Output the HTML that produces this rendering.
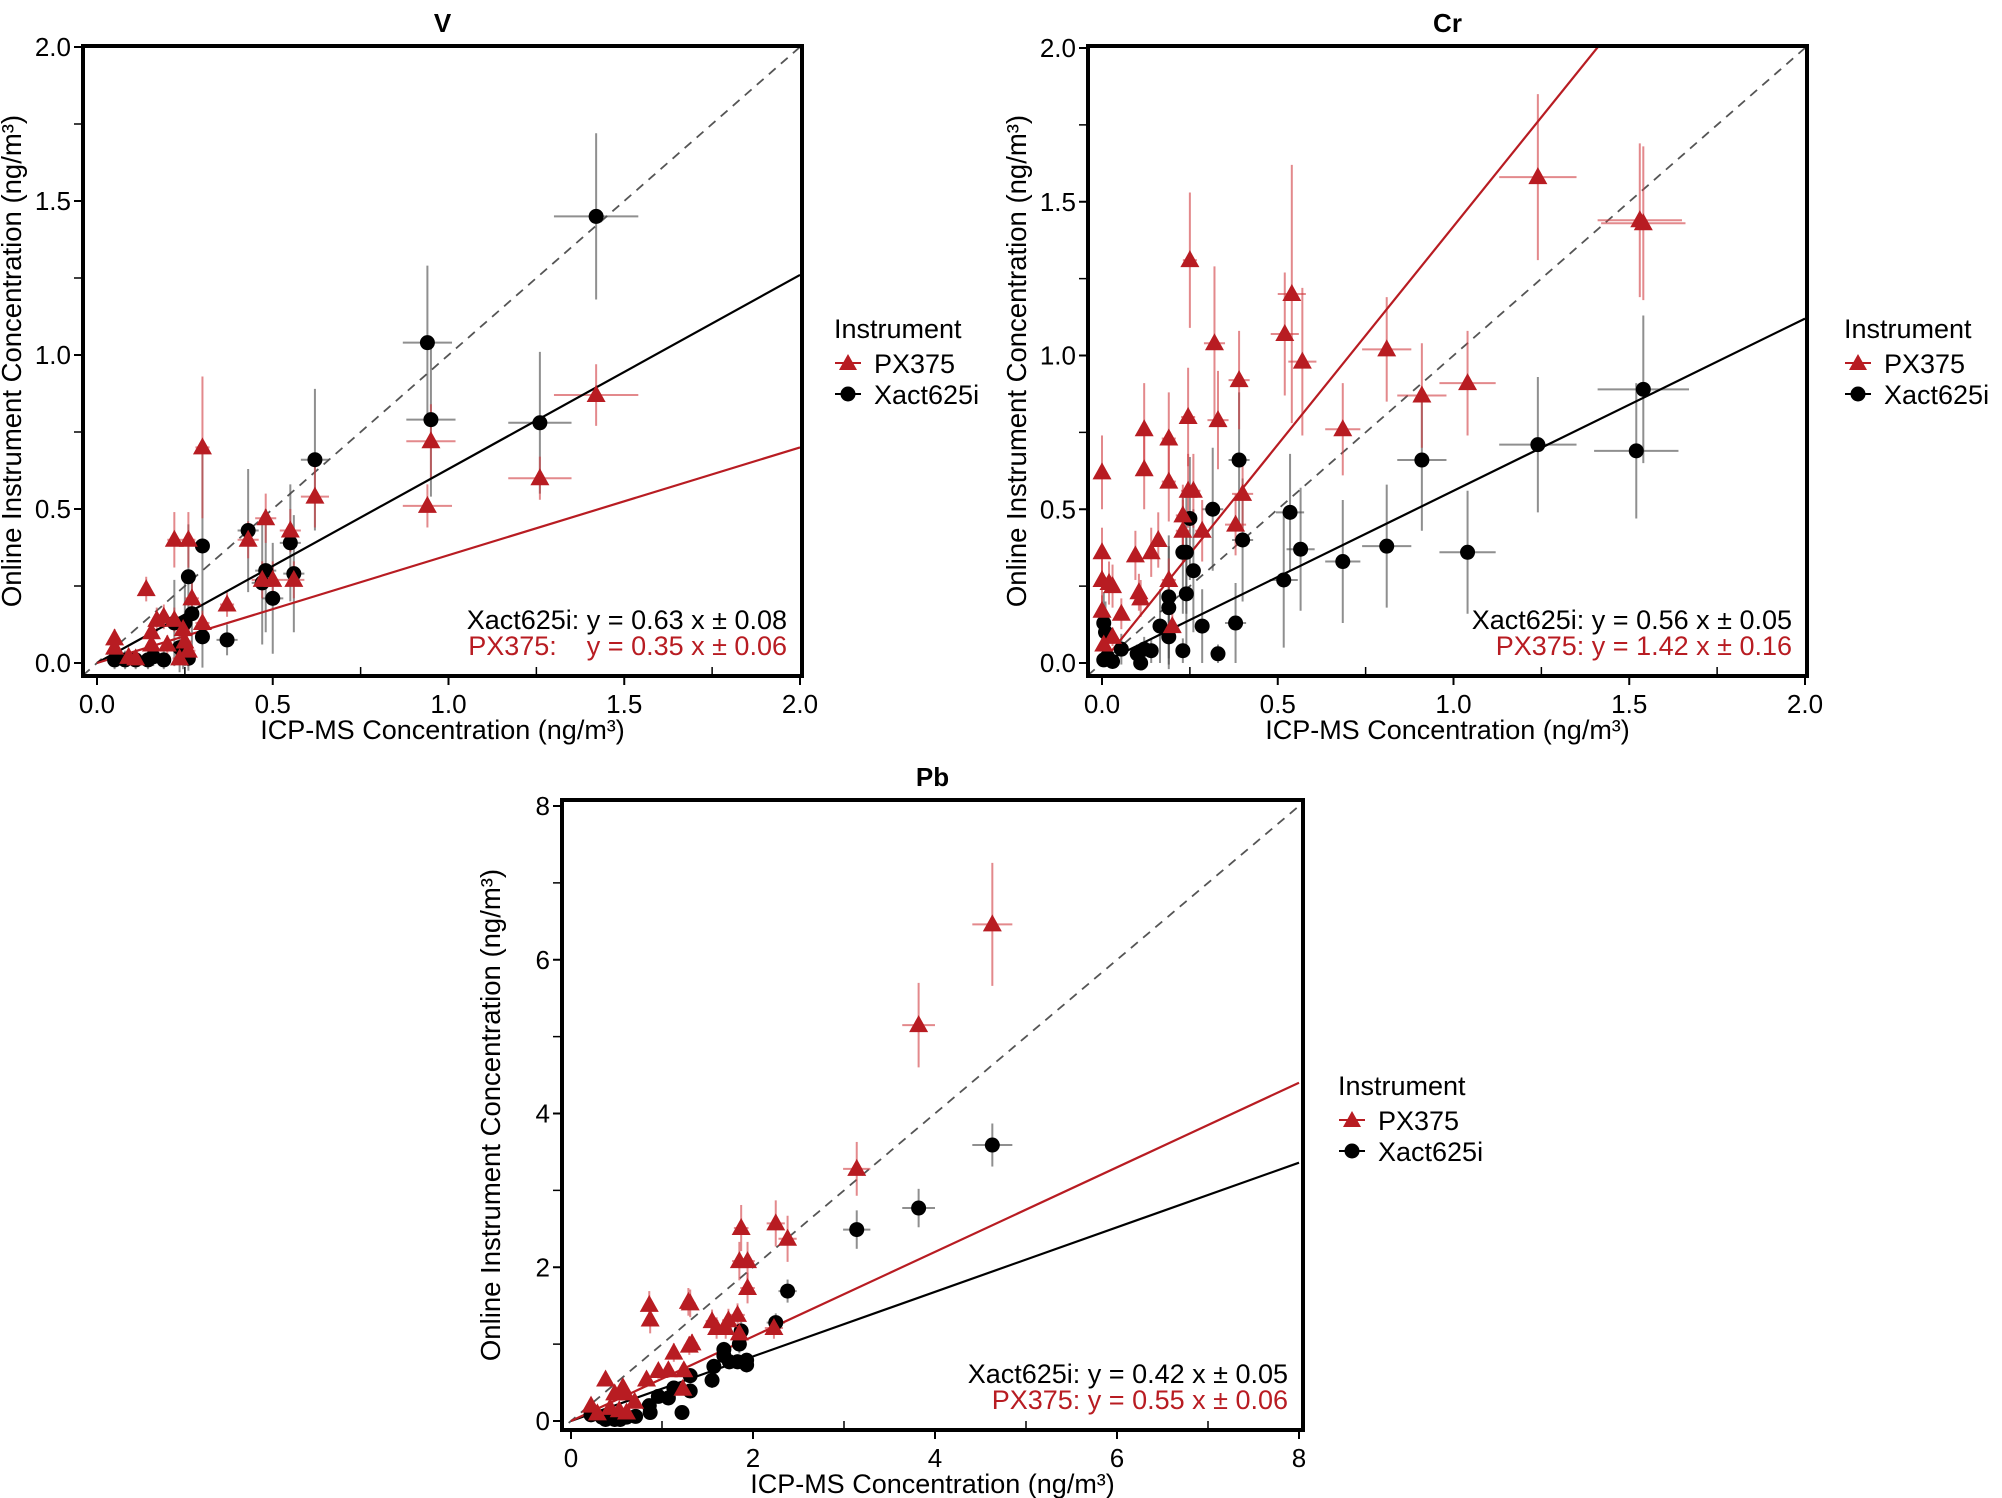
<!DOCTYPE html>
<html><head><meta charset="utf-8"><style>
html,body{margin:0;padding:0;background:#fff;}
svg{display:block;font-family:"Liberation Sans",sans-serif;}
</style></head><body>
<svg id="chart" width="2002" height="1498" viewBox="0 0 2002 1498"></svg>
<script>
// ---- data: [x, y, xerr, yerr] ----
const slopesV = [0.63, 0.35];
const slopesCr = [0.56, 1.42];
const slopesPb = [0.42, 0.55];
const vXact = [[1.42,1.45,0.12,0.27],[0.94,1.04,0.07,0.25],[0.95,0.79,0.07,0.25],[1.26,0.78,0.09,0.23],[0.62,0.66,0.04,0.23],[0.43,0.43,0.03,0.2],[0.55,0.39,0.03,0.19],[0.30,0.38,0.02,0.3],[0.48,0.30,0.03,0.2],[0.56,0.29,0.03,0.19],[0.26,0.28,0.02,0.17],[0.47,0.26,0.03,0.2],[0.50,0.21,0.03,0.18],[0.27,0.16,0.02,0.12],[0.30,0.085,0.02,0.1],[0.37,0.075,0.03,0.05],[0.22,0.13,0.02,0.14],[0.25,0.13,0.02,0.14],[0.05,0.01,0.01,0.03],[0.08,0.01,0.01,0.03],[0.11,0.01,0.01,0.03],[0.145,0.01,0.01,0.03],[0.16,0.02,0.01,0.03],[0.19,0.01,0.01,0.03],[0.245,0.03,0.02,0.05],[0.26,0.015,0.02,0.04],[0.235,0.05,0.02,0.08]];
const vPx = [[1.42,0.87,0.12,0.1],[0.95,0.72,0.07,0.12],[0.94,0.51,0.07,0.07],[1.26,0.60,0.09,0.07],[0.62,0.54,0.04,0.1],[0.30,0.70,0.02,0.23],[0.48,0.47,0.03,0.08],[0.55,0.43,0.03,0.07],[0.43,0.40,0.03,0.06],[0.22,0.40,0.02,0.09],[0.26,0.40,0.02,0.09],[0.47,0.27,0.03,0.06],[0.50,0.27,0.03,0.06],[0.56,0.27,0.03,0.06],[0.14,0.24,0.01,0.04],[0.27,0.21,0.02,0.05],[0.37,0.19,0.02,0.04],[0.17,0.14,0.01,0.04],[0.19,0.15,0.01,0.04],[0.22,0.14,0.01,0.04],[0.30,0.13,0.02,0.04],[0.155,0.10,0.01,0.03],[0.05,0.08,0.01,0.03],[0.245,0.11,0.02,0.04],[0.155,0.06,0.01,0.03],[0.20,0.06,0.01,0.03],[0.25,0.07,0.02,0.03],[0.05,0.05,0.01,0.02],[0.09,0.02,0.01,0.02],[0.11,0.015,0.01,0.02],[0.235,0.015,0.02,0.02],[0.26,0.04,0.02,0.02]];
const crXact = [[1.54,0.89,0.13,0.24],[1.24,0.71,0.11,0.22],[1.52,0.69,0.12,0.22],[0.91,0.66,0.07,0.23],[0.39,0.66,0.03,0.22],[0.315,0.50,0.03,0.2],[0.535,0.49,0.04,0.19],[0.25,0.47,0.02,0.2],[0.40,0.40,0.03,0.2],[0.81,0.38,0.07,0.2],[0.565,0.37,0.04,0.2],[1.04,0.36,0.08,0.2],[0.23,0.36,0.02,0.2],[0.24,0.36,0.02,0.2],[0.685,0.33,0.05,0.2],[0.26,0.30,0.02,0.2],[0.517,0.27,0.04,0.22],[0.24,0.225,0.02,0.2],[0.19,0.215,0.02,0.2],[0.19,0.18,0.02,0.2],[0.38,0.13,0.03,0.13],[0.285,0.12,0.02,0.12],[0.165,0.12,0.02,0.12],[0.19,0.085,0.02,0.09],[0.005,0.13,0.005,0.1],[0.01,0.10,0.005,0.1],[0.23,0.04,0.02,0.04],[0.33,0.03,0.02,0.03],[0.055,0.045,0.01,0.05],[0.14,0.04,0.01,0.04],[0.10,0.03,0.01,0.03],[0.12,0.045,0.01,0.04],[0.11,0.0,0.01,0.02],[0.03,0.005,0.01,0.02],[0.005,0.01,0.005,0.02],[0.015,0.02,0.005,0.02]];
const crPx = [[1.24,1.58,0.11,0.27],[1.53,1.44,0.12,0.25],[1.54,1.43,0.12,0.25],[0.25,1.31,0.02,0.22],[0.54,1.20,0.04,0.42],[0.52,1.07,0.04,0.2],[0.32,1.04,0.03,0.25],[0.57,0.98,0.04,0.24],[0.81,1.02,0.07,0.17],[0.39,0.92,0.03,0.16],[1.04,0.91,0.08,0.17],[0.91,0.87,0.07,0.17],[0.12,0.76,0.01,0.15],[0.33,0.79,0.03,0.16],[0.245,0.80,0.02,0.16],[0.685,0.76,0.05,0.15],[0.19,0.73,0.02,0.15],[0.0,0.62,0.005,0.12],[0.12,0.63,0.01,0.13],[0.19,0.59,0.02,0.13],[0.245,0.56,0.02,0.12],[0.26,0.56,0.02,0.12],[0.40,0.55,0.03,0.12],[0.23,0.48,0.02,0.1],[0.38,0.45,0.03,0.1],[0.23,0.43,0.02,0.1],[0.285,0.43,0.02,0.1],[0.16,0.40,0.01,0.09],[0.14,0.36,0.01,0.08],[0.095,0.35,0.01,0.08],[0.0,0.36,0.005,0.08],[0.105,0.23,0.01,0.06],[0.11,0.21,0.01,0.06],[0.19,0.27,0.02,0.07],[0.0,0.27,0.005,0.07],[0.02,0.26,0.005,0.07],[0.03,0.25,0.005,0.07],[0.0,0.17,0.005,0.05],[0.055,0.16,0.01,0.05],[0.20,0.12,0.02,0.04],[0.03,0.085,0.005,0.03],[0.005,0.06,0.005,0.03]];
const pbXact = [[4.63,3.59,0.22,0.28],[3.82,2.77,0.18,0.25],[3.14,2.49,0.15,0.25],[2.38,1.69,0.1,0.15],[2.25,1.28,0.1,0.12],[1.87,1.17,0.08,0.12],[1.85,1.00,0.08,0.12],[1.68,0.93,0.07,0.1],[1.68,0.85,0.07,0.1],[1.74,0.77,0.07,0.1],[1.83,0.77,0.08,0.1],[1.93,0.79,0.08,0.1],[1.93,0.73,0.08,0.1],[1.57,0.71,0.07,0.1],[1.31,0.59,0.06,0.1],[1.31,0.39,0.06,0.08],[1.55,0.53,0.07,0.1],[1.13,0.43,0.05,0.08],[1.07,0.30,0.05,0.08],[0.96,0.32,0.04,0.08],[0.86,0.20,0.04,0.07],[0.87,0.11,0.04,0.06],[1.22,0.11,0.05,0.06],[0.71,0.06,0.03,0.05],[0.61,0.05,0.03,0.05],[0.43,0.04,0.02,0.04],[0.34,0.05,0.02,0.04],[0.22,0.08,0.02,0.04],[0.54,0.02,0.02,0.03],[0.48,0.02,0.02,0.03],[0.38,0.02,0.02,0.03]];
const pbPx = [[4.63,6.46,0.22,0.8],[3.82,5.15,0.18,0.55],[3.14,3.28,0.15,0.35],[2.25,2.57,0.1,0.3],[2.38,2.37,0.1,0.3],[1.87,2.51,0.08,0.3],[1.85,2.08,0.08,0.25],[1.94,2.08,0.08,0.25],[1.94,1.73,0.08,0.2],[0.86,1.51,0.04,0.18],[0.87,1.32,0.04,0.18],[1.29,1.55,0.06,0.18],[1.31,1.53,0.06,0.18],[1.55,1.30,0.07,0.15],[1.83,1.38,0.08,0.15],[1.73,1.31,0.07,0.15],[1.60,1.21,0.07,0.14],[1.70,1.21,0.07,0.14],[1.85,1.14,0.08,0.14],[2.23,1.21,0.1,0.14],[1.30,0.98,0.06,0.12],[1.33,1.01,0.06,0.12],[1.13,0.89,0.05,0.12],[1.07,0.66,0.05,0.1],[0.96,0.65,0.04,0.1],[0.83,0.54,0.04,0.1],[1.24,0.66,0.05,0.1],[1.23,0.42,0.05,0.08],[0.38,0.54,0.02,0.08],[0.57,0.44,0.03,0.08],[0.48,0.36,0.02,0.07],[0.60,0.36,0.03,0.07],[0.70,0.25,0.03,0.06],[0.22,0.20,0.02,0.05],[0.43,0.17,0.02,0.05],[0.53,0.14,0.02,0.05],[0.61,0.11,0.03,0.05],[0.29,0.10,0.02,0.04]];
const ticksV = ["0.0","0.5","1.0","1.5","2.0"];
const ticksPb = ["0","2","4","6","8"];

const RED = "#b81c22", BLACK = "#000";
const svg = document.getElementById('chart');
const NS = "http://www.w3.org/2000/svg";
function mk(tag, attrs, parent){const e=document.createElementNS(NS,tag);for(const k in attrs)e.setAttribute(k,attrs[k]);(parent||svg).appendChild(e);return e;}

function panel(o){
  const g = mk('g',{});
  
  
  const sx = v => o.x0 + (v/o.max)*(o.x1-o.x0);
  const sy = v => o.y0 - (v/o.max)*(o.y0-o.y1);
  const cid = 'clip-'+o.name;
  const cp = mk('clipPath',{id:cid},g);
  mk('rect',{x:o.bx0,y:o.by0,width:o.bx1-o.bx0,height:o.by1-o.by0},cp);
  const t = mk('text',{x:(o.bx0+o.bx1)/2,y:o.by0-14,'text-anchor':'middle','font-size':26,'font-weight':'bold'},g);
  t.textContent=o.name;
  
  
  const n = o.ticks.length;
  for(let i=0;i<n;i++){
    const v = o.max*i/(n-1);
    mk('line',{x1:o.bx0-9,x2:o.bx0,y1:sy(v),y2:sy(v),stroke:'#000','stroke-width':2},g);
    const yl = mk('text',{x:o.bx0-12,y:sy(v)+9,'text-anchor':'end','font-size':26},g);
    yl.textContent=o.ticks[i];
    
    
    mk('line',{x1:sx(v),x2:sx(v),y1:o.by1,y2:o.by1+9,stroke:'#000','stroke-width':2},g);
    const xl = mk('text',{x:sx(v),y:o.by1+37,'text-anchor':'middle','font-size':26},g);
    xl.textContent=o.ticks[i];
    
    
    if(i<n-1){
      const m = o.max*(i+0.5)/(n-1);
      mk('line',{x1:o.bx0-9,x2:o.bx0,y1:sy(m),y2:sy(m),stroke:'#000','stroke-width':1.5},g);
      mk('line',{x1:sx(m),x2:sx(m),y1:o.by1,y2:o.by1-9,stroke:'#000','stroke-width':1.5},g);
    }
  }
  const xt = mk('text',{x:(o.bx0+o.bx1)/2,y:o.by1+63,'text-anchor':'middle','font-size':27},g);
  xt.textContent='ICP-MS Concentration (ng/m³)';
  
  
  const ycx = o.bx0-62, ycy=(o.by0+o.by1)/2;
  const yt = mk('text',{x:ycx,y:ycy,'text-anchor':'middle','font-size':27.5,transform:`rotate(-90 ${ycx} ${ycy})`},g);
  yt.textContent='Online Instrument Concentration (ng/m³)';
  
  
  const pg = mk('g',{'clip-path':`url(#${cid})`},g);
  mk('line',{x1:sx(-0.02*o.max),y1:sy(-0.02*o.max),x2:sx(o.max),y2:sy(o.max),stroke:'#555','stroke-width':1.8,'stroke-dasharray':'9 7'},pg);
  function errs(data,col){
    data.forEach(d=>{
      mk('line',{x1:sx(d[0]-d[2]),x2:sx(d[0]+d[2]),y1:sy(d[1]),y2:sy(d[1]),stroke:col,'stroke-width':2,'stroke-opacity':0.6},pg);
      mk('line',{x1:sx(d[0]),x2:sx(d[0]),y1:sy(d[1]-d[3]),y2:sy(d[1]+d[3]),stroke:col,'stroke-width':2,'stroke-opacity':0.6},pg);
    });
  }
  errs(o.xact,'#444'); errs(o.px,'#d03a40');
  const fx = mk('line',{x1:sx(0),y1:sy(0),x2:sx(o.max),y2:sy(o.max*o.slopes[0]),stroke:BLACK,'stroke-width':2.2},pg);
  
  
  const fp = mk('line',{x1:sx(0),y1:sy(0),x2:sx(o.max),y2:sy(o.max*o.slopes[1]),stroke:RED,'stroke-width':2.2},pg);
  
  
  o.xact.forEach(d=>{
    const c = mk('circle',{cx:sx(d[0]),cy:sy(d[1]),r:7.5,fill:'#000'},pg);
    
    
  });
  o.px.forEach(d=>{
    const x=sx(d[0]), y=sy(d[1]);
    const p = mk('polygon',{points:`${x-9.5},${y+7} ${x+9.5},${y+7} ${x},${y-10}`,fill:RED},pg);
    
    
  });
  mk('rect',{x:o.bx0,y:o.by0,width:o.bx1-o.bx0,height:o.by1-o.by0,fill:'none',stroke:'#000','stroke-width':4},g);
  const a1 = mk('text',{x:o.bx1-15,y:o.by1-47,'text-anchor':'end','font-size':27,fill:'#000'},g);
  a1.textContent=`Xact625i: y = ${o.slopes[0].toFixed(2)} x ± ${o.err[0]}`;
  
  
  const a2 = mk('text',{x:o.bx1-15,y:o.by1-21,'text-anchor':'end','font-size':27,fill:RED,style:'white-space:pre'},g);
  a2.textContent=`PX375:${o.pad}y = ${o.slopes[1].toFixed(2)} x ± ${o.err[1]}`;
  
  
  const lg = mk('g',{},g);
  
  
  const lx=o.lx, ly=o.ly;
  mk('text',{x:lx,y:ly,'font-size':27},lg).textContent='Instrument';
  mk('line',{x1:lx+1,x2:lx+27,y1:ly+25,y2:ly+25,stroke:RED,'stroke-width':2},lg);
  mk('polygon',{points:`${lx+5},${ly+32} ${lx+23},${ly+32} ${lx+14},${ly+16}`,fill:RED},lg);
  const e1 = mk('text',{x:lx+40,y:ly+35,'font-size':27},lg);
  e1.textContent='PX375';
  
  
  mk('line',{x1:lx+1,x2:lx+27,y1:ly+56,y2:ly+56,stroke:'#000','stroke-width':2},lg);
  mk('circle',{cx:lx+14,cy:ly+56,r:7.5,fill:'#000'},lg);
  const e2 = mk('text',{x:lx+40,y:ly+66,'font-size':27},lg);
  e2.textContent='Xact625i';
  
  
}

panel({name:'V',max:2,ticks:ticksV,bx0:83,bx1:802,by0:46,by1:676,x0:97,x1:800,y0:663,y1:47,xact:vXact,px:vPx,slopes:slopesV,err:['0.08','0.06'],pad:'    ',lx:834,ly:338});
panel({name:'Cr',max:2,ticks:ticksV,bx0:1088,bx1:1807,by0:46,by1:676,x0:1102,x1:1805,y0:663,y1:48,xact:crXact,px:crPx,slopes:slopesCr,err:['0.05','0.16'],pad:' ',lx:1844,ly:338});
panel({name:'Pb',max:8,ticks:ticksPb,bx0:562,bx1:1303,by0:800,by1:1430,x0:571,x1:1299,y0:1421,y1:806,xact:pbXact,px:pbPx,slopes:slopesPb,err:['0.05','0.06'],pad:' ',lx:1338,ly:1095});
</script>
</body></html>
